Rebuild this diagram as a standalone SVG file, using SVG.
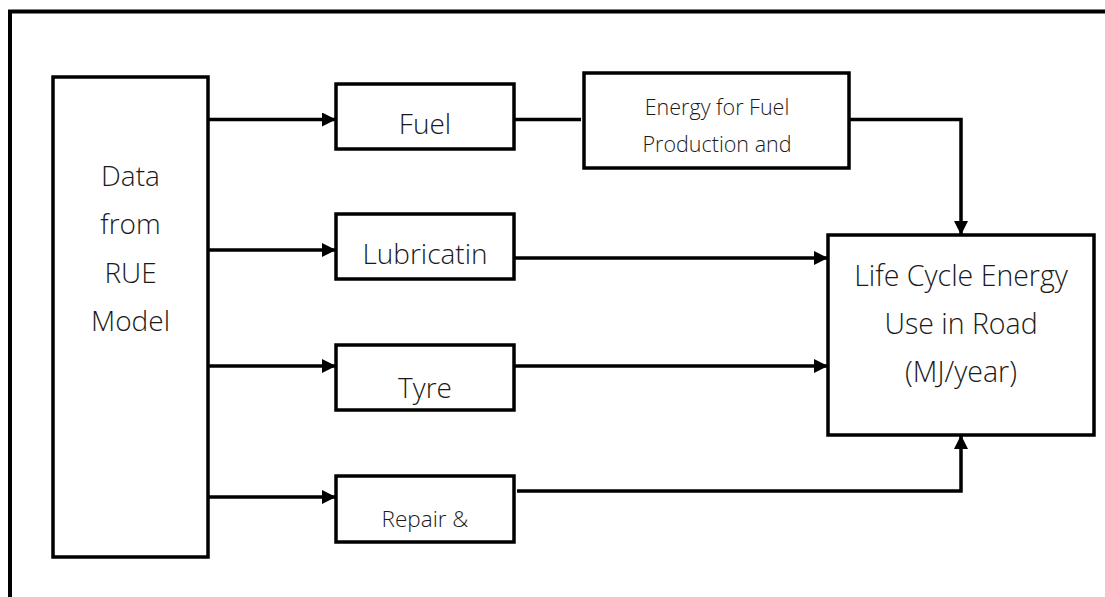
<svg xmlns="http://www.w3.org/2000/svg" width="1105" height="597" viewBox="0 0 1105 597">
<style>
.box{fill:#fff;stroke:#000;stroke-width:3.5}
.t{font-family:"Open Sans","Noto Sans",sans-serif;font-weight:300;fill:#1a1a1a;text-anchor:middle}
.c{fill:none;stroke:#000;stroke-width:3.5}
.a{marker-end:url(#ah)}
</style>
<defs>
<marker id="ah" markerUnits="userSpaceOnUse" markerWidth="15" markerHeight="15" refX="14" refY="7" orient="auto">
<path d="M0,0 L14,7 L0,14 z" fill="#000"/>
</marker>
</defs>
<rect width="1105" height="597" fill="#fff"/>
<path d="M10,600 V11.5 H1110" fill="none" stroke="#000" stroke-width="4"/>
<g id="connectors">
<path class="c a" d="M208,119.5 H336"/>
<path class="c a" d="M208,250 H336"/>
<path class="c a" d="M208,366 H336"/>
<path class="c a" d="M208,497 H336"/>
<path class="c" d="M514,119.5 H581" stroke-width="4.5"/>
<path class="c a" d="M849,119.5 H961 V235"/>
<path class="c a" d="M514,258 H828"/>
<path class="c a" d="M514,366 H828"/>
<path class="c a" d="M517,491 H961 V435" stroke-width="4.5"/>
</g>
<g id="data">
<rect class="box" x="53" y="77" width="155" height="480"/>
<text class="t" font-size="28" x="130.5" y="186">Data</text>
<text class="t" font-size="28" x="130.5" y="234">from</text>
<text class="t" font-size="28" x="130.5" y="283">RUE</text>
<text class="t" font-size="28" x="130.5" y="331">Model</text>
</g>
<g id="fuel">
<rect class="box" x="336" y="84" width="178" height="65"/>
<text class="t" font-size="28" x="425" y="134">Fuel</text>
</g>
<g id="energy">
<rect class="box" x="584" y="73" width="265" height="95"/>
<text class="t" font-size="21.5" x="717" y="115">Energy for Fuel</text>
<text class="t" font-size="21.5" x="717" y="152">Production and</text>
</g>
<g id="lubricatin">
<rect class="box" x="336" y="214" width="178" height="65"/>
<text class="t" font-size="28" x="425" y="264">Lubricatin</text>
</g>
<g id="tyre">
<rect class="box" x="336" y="345" width="178" height="65"/>
<text class="t" font-size="28" x="425" y="398">Tyre</text>
</g>
<g id="repair">
<rect class="box" x="336" y="476" width="178" height="66"/>
<text class="t" font-size="22.5" x="425" y="527">Repair &amp;</text>
</g>
<g id="lifecycle">
<rect class="box" x="828" y="235" width="266" height="200"/>
<text class="t" font-size="28.5" x="961" y="286">Life Cycle Energy</text>
<text class="t" font-size="28.5" x="961" y="334">Use in Road</text>
<text class="t" font-size="28.5" x="961" y="382">(MJ/year)</text>
</g>
</svg>
